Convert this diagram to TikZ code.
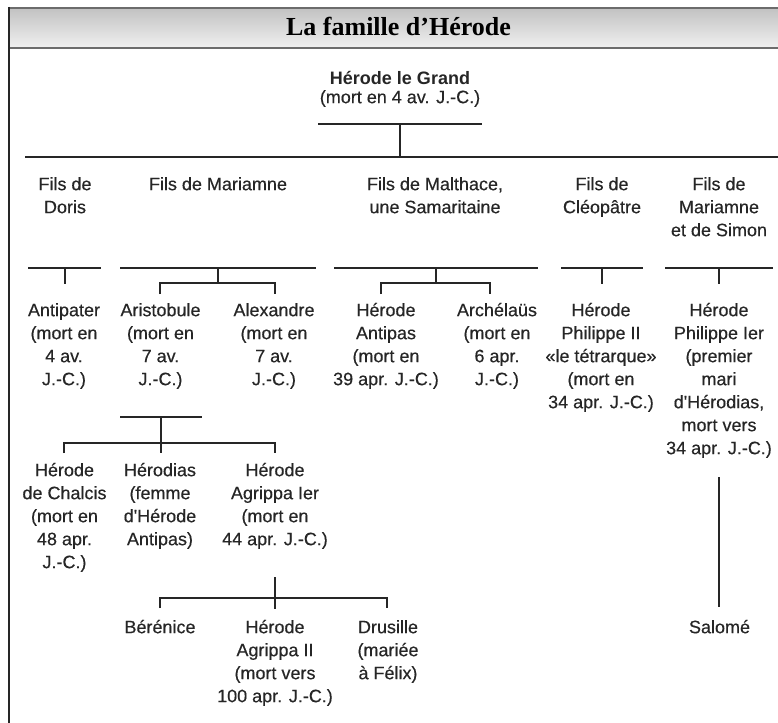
\documentclass[tikz,border=0pt]{standalone}
\usepackage{fontspec}
\setmainfont{Liberation Sans}[UprightFeatures={FakeBold=0.35}]
\newfontfamily\titlefont{Liberation Serif}
\definecolor{ink}{HTML}{262626}
\definecolor{framegray}{HTML}{6C6C6C}
\definecolor{titletop}{HTML}{C2C2C2}
\definecolor{titlebot}{HTML}{F0F0F0}
\newcommand{\mystrut}{\rule{0pt}{17pt}}
\newcommand{\apos}{\textquotesingle}
\begin{document}
\begin{tikzpicture}[x=1pt,y=-1pt,
  txt/.style={inner sep=0pt, align=center, anchor=north, text=ink,
    font=\fontsize{18}{23}\selectfont},
  link/.style={draw=ink, line width=1.9pt},
]
\useasboundingbox (0,0) rectangle (778,722);
\fill[white] (0,0) rectangle (778,722);
% frame and title bar
\shade[top color=titletop, bottom color=titlebot] (9,8) rectangle (780,48);
\draw[framegray, line width=2pt] (9,8) -- (780,8);
\draw[framegray, line width=2.6pt] (9,48) -- (780,48);
\draw[ink, line width=1.8pt] (9,7) -- (9,724);
\node[inner sep=0pt, anchor=base, text=black, font=\titlefont\bfseries\fontsize{26}{30}\selectfont] (title) at (398.5,36) {La famille d’Hérode};

% Herod the Great
\node[txt] (herode) at (400,67) {\mystrut\textbf{Hérode le Grand}\\[-4pt](mort en 4 av. J.-C.)};

% mothers
\node[txt] (doris) at (65,173) {\mystrut Fils de\\Doris};
\node[txt] (mariamne) at (218,173) {\mystrut Fils de Mariamne};
\node[txt] (malthace) at (435,173) {\mystrut Fils de Malthace,\\une Samaritaine};
\node[txt] (cleopatre) at (602,173) {\mystrut Fils de\\Cléopâtre};
\node[txt] (simon) at (719,173) {\mystrut Fils de\\Mariamne\\et de Simon};

% sons
\node[txt] (antipater) at (64,299) {\mystrut Antipater\\(mort en\\4 av.\\J.-C.)};
\node[txt] (aristobule) at (160.5,299) {\mystrut Aristobule\\(mort en\\7 av.\\J.-C.)};
\node[txt] (alexandre) at (274,299) {\mystrut Alexandre\\(mort en\\7 av.\\J.-C.)};
\node[txt] (antipas) at (386,299) {\mystrut Hérode\\Antipas\\(mort en\\39 apr. J.-C.)};
\node[txt] (archelaus) at (497,299) {\mystrut Archélaüs\\(mort en\\6 apr.\\J.-C.)};
\node[txt] (philippeII) at (601,299) {\mystrut Hérode\\Philippe II\\«le tétrarque»\\(mort en\\34 apr. J.-C.)};
\node[txt] (philippeI) at (719,299) {\mystrut Hérode\\Philippe Ier\\(premier\\mari\\d\apos Hérodias,\\mort vers\\34 apr. J.-C.)};

% grandchildren
\node[txt] (chalcis) at (64.5,459) {\mystrut Hérode\\de Chalcis\\(mort en\\48 apr.\\J.-C.)};
\node[txt] (herodias) at (160,459) {\mystrut Hérodias\\(femme\\d\apos Hérode\\Antipas)};
\node[txt] (agrippaI) at (275,459) {\mystrut Hérode\\Agrippa Ier\\(mort en\\44 apr. J.-C.)};

% great-grandchildren
\node[txt] (berenice) at (160,616) {\mystrut Bérénice};
\node[txt] (agrippaII) at (275,616) {\mystrut Hérode\\Agrippa II\\(mort vers\\100 apr. J.-C.)};
\node[txt] (drusille) at (388,616) {\mystrut Drusille\\(mariée\\à Félix)};
\node[txt] (salome) at (719.5,616) {\mystrut Salomé};

% junction coordinates
\coordinate (gL) at (318,124); \coordinate (gR) at (482,124); \coordinate (gM) at (400,124);
\coordinate (sL) at (25,157); \coordinate (sR) at (780,157); \coordinate (sM) at (400,157);

\coordinate (dL) at (28,268); \coordinate (dR) at (101,268); \coordinate (dM) at (65,268);
\coordinate (mL) at (120,268); \coordinate (mR) at (316,268); \coordinate (mM) at (218,268);
\coordinate (tL) at (334,268); \coordinate (tR) at (538,268); \coordinate (tM) at (436,268);
\coordinate (cL) at (561,268); \coordinate (cR) at (643,268); \coordinate (cM) at (602,268);
\coordinate (pL) at (665,268); \coordinate (pR) at (773,268); \coordinate (pM) at (719,268);

\coordinate (aL) at (120,417); \coordinate (aR) at (202,417); \coordinate (aM) at (161,417);

% top of tree
\draw[link] (gL) -- (gR);
\draw[link] (gM) -- (sM);
\draw[link] (sL) -- (sR);

% Doris
\draw[link] (dL) -- (dR);
\draw[link] (dM) -- (65,284);
% Mariamne
\draw[link] (mL) -- (mR);
\draw[link] (mM) -- (218,283);
\draw[link] (160,294) -- (160,283) -- (275,283) -- (275,294);
% Malthace
\draw[link] (tL) -- (tR);
\draw[link] (tM) -- (436,283);
\draw[link] (381,294) -- (381,283) -- (490,283) -- (490,294);
% Cleopatre
\draw[link] (cL) -- (cR);
\draw[link] (cM) -- (602,284);
% Mariamne et Simon
\draw[link] (pL) -- (pR);
\draw[link] (pM) -- (719,284);

% Aristobule's children
\draw[link] (aL) -- (aR);
\draw[link] (aM) -- (161,453);
\draw[link] (64,453) -- (64,443) -- (275,443) -- (275,453);

% Agrippa I's children
\draw[link] (275,577) -- (275,609);
\draw[link] (160,608) -- (160,598) -- (387,598) -- (387,608);

% Salome
\draw[link] (719,477) -- (719,607);
\end{tikzpicture}
\end{document}
